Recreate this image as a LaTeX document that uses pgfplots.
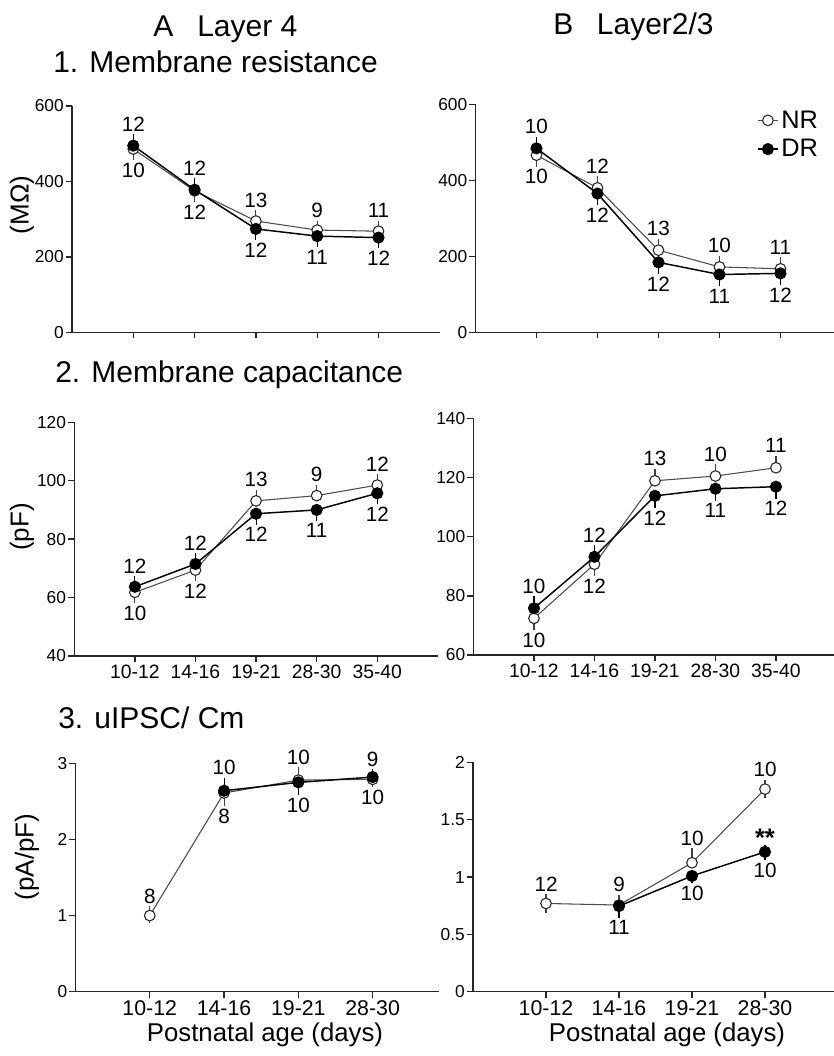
\documentclass[border=0pt]{standalone}
\usepackage{fontspec}
\setmainfont{Liberation Sans}
\usepackage{pgfplots}
\usepackage{pgfplotstable}
\pgfplotsset{compat=1.18}

\newcommand\fs[1]{\fontsize{#1}{#1}\selectfont}

% x = category, nr/dr = mean, p/m = error bar up/down
\pgfplotstableread{
x nr nrp nrm dr drp drm
1 486 0 30 495 30 0
2 375 0 30 378 30 0
3 295 28 0 274 0 30
4 271 25 0 255 0 30
5 268 28 0 251 0 28
}\tAone
\pgfplotstableread{
x nr nrp nrm dr drp drm
1 466 0 30 484 30 0
2 380 30 0 365 0 30
3 216 30 0 184 0 30
4 172 30 0 152 0 30
5 167 30 0 155 0 30
}\tBone
\pgfplotstableread{
x nr nrp nrm dr drp drm
1 61.8 0 3.7 63.7 3.7 0
2 69.4 0 3.7 71.5 3.7 0
3 93.1 3.7 0 88.7 0 3.7
4 94.9 3.7 0 90.0 0 3.7
5 98.5 3.7 0 95.7 0 3.7
}\tAtwo
\pgfplotstableread{
x nr nrp nrm dr drp drm
1 72.4 0 4 75.8 4 0
2 90.7 0 4 93.2 4 0
3 118.9 4 0 113.8 0 4
4 120.5 4 0 116.2 0 4
5 123.3 4 0 116.9 0 4
}\tBtwo
\pgfplotstableread{
x nr nrp nrm dr drp drm
1 1.00 0.12 0.1 nan 0 0
2 2.61 0 0.17 2.64 0.17 0
3 2.78 0.17 0 2.75 0 0.17
4 2.79 0 0.1 2.82 0.1 0
}\tAthree
\pgfplotstableread{
x nr nrp nrm dr drp drm
1 0.77 0.08 0.08 nan 0 0
2 0.756 0.09 0 0.747 0 0.1
3 1.125 0.125 0 1.01 0 0.065
4 1.767 0.08 0.08 1.22 0.06 0.07
}\tBthree

\pgfplotsset{
  panel/.style={
    scale only axis, anchor=south west, clip=false,
    axis x line=bottom, axis y line=left,
    axis line style={-, line width=1.1pt, black!85},
    tick align=outside, major tick length=4.5pt,
    tick style={line width=1pt, black!85},
    xmin=0, xtick={1,2,3,4,5},
    xticklabel style={font=\fs{16}, inner sep=2pt},
    yticklabel style={font=\fs{13}, inner sep=1.5pt},
    /pgf/number format/assume math mode=true,
  },
  nrs/.style={black!70, line width=0.8pt, mark=*, mark size=4pt,
    mark options={fill=white, draw=black!85, line width=0.8pt},
    error bars/y dir=both, error bars/y explicit,
    error bars/error mark=none,
    error bars/error bar style={line width=0.8pt, black!75}},
  drs/.style={black, line width=1.1pt, mark=*, mark size=4pt,
    mark options={fill=black, draw=black},
    error bars/y dir=both, error bars/y explicit,
    error bars/error mark=none,
    error bars/error bar style={line width=0.8pt, black}},
  lab/.style={draw=none, forget plot, nodes near coords, point meta=explicit symbolic,
    every node near coord/.append style={font=\fs{15.5}, text=black, inner sep=2pt, anchor=#1}},
}

\begin{document}
\begin{tikzpicture}[txt/.style={inner sep=0pt}]
\useasboundingbox (0,0) rectangle (624.75pt,-792pt);

% titles
\node[txt, anchor=base west, font=\fs{22.5}] at (114.75pt,-27.5pt) {A};
\node[txt, anchor=base west, font=\fs{22.5}] at (147.75pt,-27.5pt) {Layer 4};
\node[txt, anchor=base west, font=\fs{22.5}] at (414.75pt,-26.25pt) {B};
\node[txt, anchor=base west, font=\fs{22.5}] at (447.5pt,-26.25pt) {Layer2/3};
\node[txt, anchor=base west, font=\fs{22.5}] at (39.75pt,-54.5pt) {1. Membrane resistance};
\node[txt, anchor=base west, font=\fs{22.5}] at (41.25pt,-287pt) {2. Membrane capacitance};
\node[txt, anchor=base west, font=\fs{22.5}] at (43.5pt,-546.25pt) {3. uIPSC/ Cm};

% y labels
\node[txt, rotate=90, font=\fs{19.5}] at (16.5pt,-153.75pt) {(MΩ)};
\node[txt, rotate=90, font=\fs{19.5}] at (16.5pt,-395.25pt) {(pF)};
\node[txt, rotate=90, font=\fs{19.5}] at (20.25pt,-642.75pt) {(pA/pF)};

% x labels
\node[txt, anchor=base, font=\fs{19.3}] at (198.75pt,-781.25pt) {Postnatal age (days)};
\node[txt, anchor=base, font=\fs{19.3}] at (500.25pt,-781.25pt) {Postnatal age (days)};

% A1
\begin{axis}[panel, at={(54pt,-249.2pt)}, width=275.85pt, height=169.7pt,
  xmax=6, ymin=0, ymax=600, ytick={0,200,400,600}, xticklabels={}]
\addplot[nrs] table[x=x, y=nr, y error plus=nrp, y error minus=nrm] {\tAone};
\addplot[drs] table[x=x, y=dr, y error plus=drp, y error minus=drm] {\tAone};
\addplot[lab=south] coordinates {(1,525)[12] (2,408)[12] (3,323)[13] (4,296)[9] (5,296)[11]};
\addplot[lab=north] coordinates {(1,456)[10] (2,345)[12] (3,244)[12] (4,225)[11] (5,223)[12]};
\end{axis}

% B1
\begin{axis}[panel, at={(356.6pt,-249.2pt)}, width=274.5pt, height=171pt,
  xmax=6, ymin=0, ymax=600, ytick={0,200,400,600}, xticklabels={},
  legend cell align=left,
  legend image code/.code={\draw[mark repeat=2, mark phase=2, #1] plot coordinates {(0pt,0pt) (7.5pt,0pt) (15pt,0pt)};},
  legend style={draw=none, fill=none, at={(0.769,0.985)}, anchor=north west,
    font=\fs{19}, inner sep=0pt, row sep=3pt}]
\addplot[nrs] table[x=x, y=nr, y error plus=nrp, y error minus=nrm] {\tBone};
\addplot[drs] table[x=x, y=dr, y error plus=drp, y error minus=drm] {\tBone};
\legend{NR,DR}
\addplot[lab=south] coordinates {(1,514)[10] (2,410)[12] (3,246)[13] (4,202)[10] (5,197)[11]};
\addplot[lab=north] coordinates {(1,436)[10] (2,335)[12] (3,154)[12] (4,122)[11] (5,125)[12]};
\end{axis}

% A2
\begin{axis}[panel, at={(55.7pt,-492pt)}, width=272.7pt, height=175.3pt,
  xmax=6, ymin=40, ymax=120, ytick={40,60,80,100,120},
  xticklabel style={font=\fs{14.5}},
  xticklabels={10-12,14-16,19-21,28-30,35-40}]
\addplot[nrs] table[x=x, y=nr, y error plus=nrp, y error minus=nrm] {\tAtwo};
\addplot[drs] table[x=x, y=dr, y error plus=drp, y error minus=drm] {\tAtwo};
\addplot[lab=south] coordinates {(1,67.4)[12] (2,75.2)[12] (3,96.8)[13] (4,98.6)[9] (5,102.2)[12]};
\addplot[lab=north] coordinates {(1,58.1)[10] (2,65.7)[12] (3,85.0)[12] (4,86.3)[11] (5,92.0)[12]};
\end{axis}

% B2
\begin{axis}[panel, at={(355.1pt,-491.25pt)}, width=272.25pt, height=177.5pt,
  xmax=6, ymin=60, ymax=140, ytick={60,80,100,120,140},
  xticklabel style={font=\fs{14.5}},
  xticklabels={10-12,14-16,19-21,28-30,35-40}]
\addplot[nrs] table[x=x, y=nr, y error plus=nrp, y error minus=nrm] {\tBtwo};
\addplot[drs] table[x=x, y=dr, y error plus=drp, y error minus=drm] {\tBtwo};
\addplot[lab=south] coordinates {(1,79.8)[10] (2,97.2)[12] (3,122.9)[13] (4,124.5)[10] (5,127.3)[11]};
\addplot[lab=north] coordinates {(1,68.4)[10] (2,86.7)[12] (3,109.8)[12] (4,112.2)[11] (5,112.9)[12]};
\end{axis}

% A3
\begin{axis}[panel, at={(56.6pt,-743.8pt)}, width=273pt, height=171.3pt,
  xmax=4.9, ymin=0, ymax=3, ytick={0,1,2,3}, xtick={1,2,3,4},
  xticklabels={10-12,14-16,19-21,28-30}]
\addplot[nrs] table[x=x, y=nr, y error plus=nrp, y error minus=nrm] {\tAthree};
\addplot[drs] table[x=x, y=dr, y error plus=drp, y error minus=drm] {\tAthree};
\addplot[lab=south] coordinates {(1,1.12)[8] (2,2.81)[10] (3,2.95)[10] (4,2.92)[9]};
\addplot[lab=north] coordinates {(2,2.44)[8] (3,2.58)[10] (4,2.69)[10]};
\end{axis}

% B3
\begin{axis}[panel, at={(354.75pt,-743.8pt)}, width=273.75pt, height=172pt,
  xmax=5, ymin=0, ymax=2, ytick={0,0.5,1,1.5,2}, xtick={1,2,3,4},
  xticklabels={10-12,14-16,19-21,28-30}]
\addplot[nrs] table[x=x, y=nr, y error plus=nrp, y error minus=nrm] {\tBthree};
\addplot[drs] table[x=x, y=dr, y error plus=drp, y error minus=drm] {\tBthree};
\addplot[lab=south] coordinates {(1,0.85)[12] (2,0.846)[9] (3,1.25)[10] (4,1.847)[10]};
\addplot[lab=north] coordinates {(2,0.647)[11] (3,0.945)[10] (4,1.15)[10]};
\node[txt, anchor=base, font=\fs{19}\bfseries] at (axis cs:4,1.267) {**};
\end{axis}
\end{tikzpicture}
\end{document}
